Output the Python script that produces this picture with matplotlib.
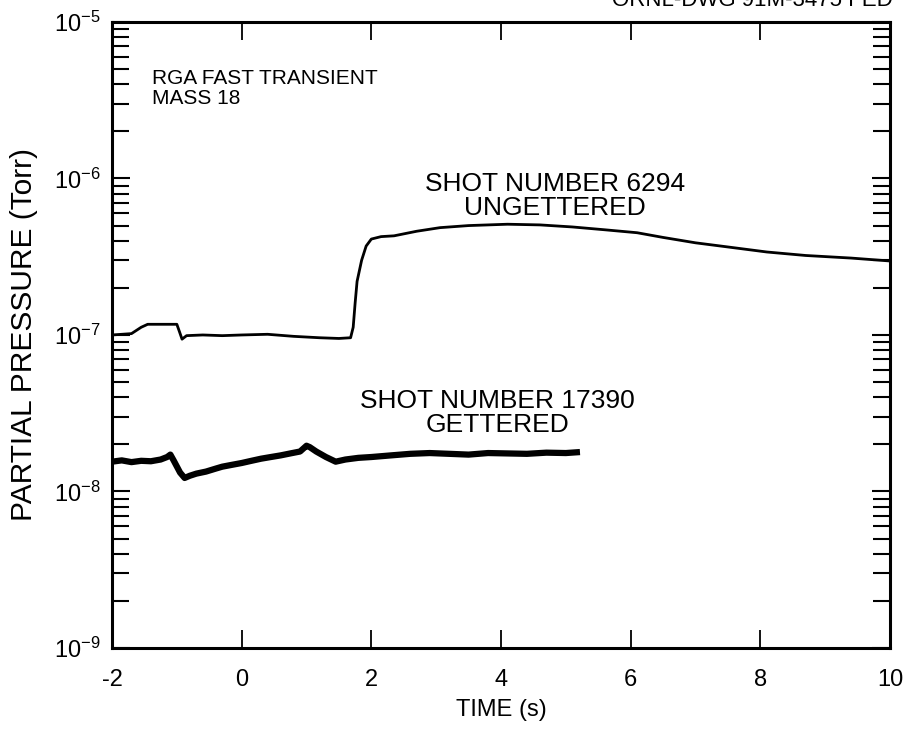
import numpy as np
import matplotlib
matplotlib.use("Agg")
import matplotlib.pyplot as plt
from matplotlib.ticker import LogLocator, NullFormatter

plt.rcParams["font.family"] = ["Liberation Sans", "DejaVu Sans"]
plt.rcParams["axes.unicode_minus"] = False
plt.rcParams["mathtext.fontset"] = "custom"
plt.rcParams["mathtext.rm"] = "Liberation Sans"

# Shot 6294, ungettered (time in s, pressure in Torr)
t_ungettered = [-2.0, -1.7, -1.55, -1.45, -1.2, -1.0, -0.96, -0.92, -0.85, -0.6,
                -0.3, 0.0, 0.4, 0.8, 1.2, 1.5, 1.68, 1.72, 1.75, 1.78,
                1.85, 1.92, 2.0, 2.15, 2.35, 2.7, 3.06, 3.5, 4.1, 4.6,
                5.1, 5.6, 6.1, 6.5, 7.0, 7.5, 8.1, 8.7, 9.4, 10.0]
p_ungettered = [1.00, 1.02, 1.12, 1.17, 1.17, 1.17, 1.05, 0.94, 0.99, 1.00,
                0.99, 1.00, 1.01, 0.98, 0.96, 0.95, 0.96, 1.12, 1.6, 2.2,
                3.0, 3.7, 4.1, 4.25, 4.3, 4.6, 4.85, 5.0, 5.1, 5.05,
                4.9, 4.7, 4.5, 4.2, 3.88, 3.65, 3.39, 3.22, 3.1, 2.97]
p_ungettered = [v * 1e-7 for v in p_ungettered]

# Shot 17390, gettered
t_gettered = [-2.0, -1.85, -1.7, -1.55, -1.4, -1.25, -1.15, -1.1, -1.05, -0.95,
              -0.88, -0.8, -0.7, -0.55, -0.4, -0.3, -0.15, 0.0, 0.15, 0.3,
              0.45, 0.6, 0.75, 0.9, 1.0, 1.05, 1.15, 1.3, 1.45, 1.6,
              1.8, 2.0, 2.3, 2.6, 2.9, 3.2, 3.5, 3.8, 4.1, 4.4,
              4.7, 5.0, 5.17]
p_gettered = [1.55, 1.58, 1.54, 1.57, 1.56, 1.60, 1.66, 1.72, 1.58, 1.32,
              1.22, 1.26, 1.30, 1.34, 1.40, 1.44, 1.48, 1.52, 1.57, 1.62,
              1.66, 1.70, 1.75, 1.80, 1.96, 1.92, 1.80, 1.66, 1.55, 1.60,
              1.64, 1.66, 1.70, 1.74, 1.76, 1.74, 1.72, 1.76, 1.75, 1.74,
              1.77, 1.76, 1.78]
p_gettered = [v * 1e-8 for v in p_gettered]

x_ticks = [-2, 0, 2, 4, 6, 8, 10]
y_decades = [1e-9, 1e-8, 1e-7, 1e-6, 1e-5]
y_labels = [r"$\mathregular{10^{-9}}$", r"$\mathregular{10^{-8}}$", r"$\mathregular{10^{-7}}$",
            r"$\mathregular{10^{-6}}$", r"$\mathregular{10^{-5}}$"]

fig = plt.figure(figsize=(9.1, 7.37), dpi=100)
ax = fig.add_axes([0.1231, 0.1208, 0.8549, 0.8494])

ax.plot(t_ungettered, p_ungettered, color="black", lw=2.0)
ax.plot(t_gettered, p_gettered, color="black", lw=4.5, solid_joinstyle="round")

ax.set_yscale("log")
ax.set_xlim(-2, 10)
ax.set_ylim(1e-9, 1e-5)

ax.set_xticks(x_ticks)
ax.set_xticklabels([str(v) for v in x_ticks])
ax.set_yticks(y_decades)
ax.set_yticklabels(y_labels)
ax.yaxis.set_minor_locator(LogLocator(base=10, subs=np.arange(2, 10)))
ax.yaxis.set_minor_formatter(NullFormatter())

ax.tick_params(axis="x", which="major", direction="in", top=True, bottom=True,
               length=13, width=1.3, labelsize=17, pad=15)
ax.tick_params(axis="y", which="major", direction="in", left=True, right=True,
               length=13, width=1.5, labelsize=17, pad=8)
ax.tick_params(axis="y", which="minor", direction="in", left=True, right=True,
               length=12, width=1.5)
for s in ax.spines.values():
    s.set_linewidth(2.2)

ax.set_xlabel("TIME (s)", fontsize=17, labelpad=6)
ax.set_ylabel("PARTIAL PRESSURE (Torr)", fontsize=21.5, labelpad=12)

ax.text(-1.38, 10**-5.30, "RGA FAST TRANSIENT\nMASS 18", ha="left", va="top",
        fontsize=15, linespacing=1.05)
ax.text(4.83, 10**-6.11, "SHOT NUMBER 6294\nUNGETTERED", ha="center", va="center",
        fontsize=19, linespacing=1.0)
ax.text(3.94, 10**-7.50, "SHOT NUMBER 17390\nGETTERED", ha="center", va="center",
        fontsize=19, linespacing=1.0)

fig.text(0.981, 1 - 6 / 737, "ORNL-DWG 91M-3475 FED", ha="right", va="baseline",
         fontsize=16)

fig.savefig("out.png", dpi=100)
